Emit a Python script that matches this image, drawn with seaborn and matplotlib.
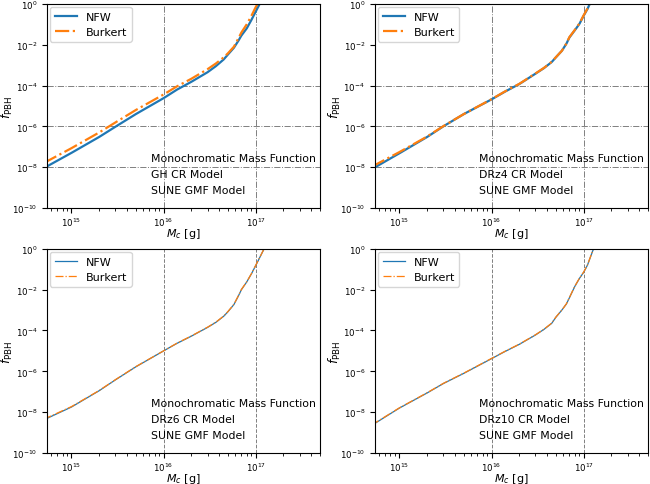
import matplotlib
matplotlib.use("Agg")
import matplotlib.pyplot as plt
import numpy as np
import seaborn as sns

# PBH mass grid [g]
mass = [5e14, 1e15, 2e15, 3e15, 5e15, 1e16, 1.4e16, 2e16, 3e16, 3.7e16, 4.5e16,
        5e16, 5.8e16, 6.5e16, 7e16, 8e16, 9e16, 1e17, 1.1e17, 1.25e17, 1.4e17]

# log10(f_PBH)
gh_nfw = [-8.05, -7.3, -6.52, -6.02, -5.4, -4.62, -4.2, -3.82, -3.35, -3.05, -2.72,
          -2.48, -2.15, -1.8, -1.55, -1.2, -0.78, -0.38, -0.02, 0.5, 0.9]
gh_burkert = [-7.8, -7.07, -6.3, -5.81, -5.2, -4.44, -4.04, -3.67, -3.2, -2.92, -2.62,
              -2.42, -2.1, -1.68, -1.4, -1.0, -0.58, -0.16, 0.15, 0.6, 1.0]

drz4_nfw = [-8.1, -7.32, -6.52, -6.0, -5.4, -4.68, -4.3, -3.93, -3.42, -3.15, -2.85,
            -2.62, -2.3, -1.95, -1.65, -1.3, -0.98, -0.58, -0.25, 0.3, 0.7]
drz4_burkert = [-7.98, -7.26, -6.5, -5.99, -5.4, -4.67, -4.29, -3.92, -3.41, -3.14, -2.84,
                -2.61, -2.3, -1.94, -1.63, -1.28, -0.96, -0.56, -0.23, 0.32, 0.72]

drz6_nfw = [-8.38, -7.75, -6.95, -6.42, -5.78, -5.0, -4.63, -4.28, -3.85, -3.6, -3.3,
            -3.08, -2.73, -2.3, -2.0, -1.62, -1.22, -0.82, -0.45, 0.05, 0.5]
drz6_burkert = [-8.35, -7.73, -6.94, -6.41, -5.77, -5.0, -4.62, -4.27, -3.84, -3.59, -3.29,
                -3.07, -2.72, -2.29, -1.99, -1.61, -1.21, -0.81, -0.44, 0.06, 0.5]

drz10_nfw = [-8.65, -7.8, -7.06, -6.6, -6.1, -5.38, -5.03, -4.68, -4.22, -3.95, -3.65,
             -3.35, -3.0, -2.7, -2.4, -1.85, -1.45, -1.15, -0.8, -0.12, 0.4]
drz10_burkert = [-8.63, -7.79, -7.05, -6.59, -6.09, -5.37, -5.02, -4.67, -4.21, -3.94, -3.64,
                 -3.34, -3.0, -2.69, -2.39, -1.84, -1.44, -1.14, -0.79, -0.11, 0.4]

cr_models = ["GH", "DRz4", "DRz6", "DRz10"]
nfw_data = [gh_nfw, drz4_nfw, drz6_nfw, drz10_nfw]
burkert_data = [gh_burkert, drz4_burkert, drz6_burkert, drz10_burkert]

fig, axes = plt.subplots(2, 2, figsize=(6.5, 4.85), dpi=100)
fig.subplots_adjust(left=0.072, right=0.997, bottom=0.064, top=0.99, wspace=0.2, hspace=0.2)

for i, ax in enumerate(axes.flat):
    top = i < 2
    lw = 1.6 if top else 0.9
    f_nfw = 10.0 ** np.array(nfw_data[i])
    f_bur = 10.0 ** np.array(burkert_data[i])
    sns.lineplot(x=mass, y=f_nfw, ax=ax, color="C0", lw=lw, label="NFW")
    sns.lineplot(x=mass, y=f_bur, ax=ax, color="C1", lw=lw, linestyle="-.", label="Burkert")

    ax.set_xscale("log")
    ax.set_yscale("log")
    ax.set_xlim(5.4e14, 5e17)
    ax.set_ylim(1e-10, 1)
    ax.set_yticks([1e0, 1e-2, 1e-4, 1e-6, 1e-8, 1e-10])
    ax.yaxis.set_minor_locator(matplotlib.ticker.NullLocator())

    if top:
        for xv in [1e16, 1e17]:
            ax.axvline(xv, color="grey", ls="-.", lw=0.7, zorder=0)
        for yv in [1e-4, 1e-6, 1e-8]:
            ax.axhline(yv, color="grey", ls="-.", lw=0.7, zorder=0)
    else:
        for xv in [1e16, 1e17]:
            ax.axvline(xv, color="grey", ls="--", lw=0.7, zorder=0)

    ax.tick_params(labelsize=6.2)
    ax.tick_params(axis="x", pad=2)
    ax.set_xlabel(r"$M_c$ [g]", fontsize=8)
    ax.set_ylabel(r"$f_{\rm PBH}$", fontsize=9)
    ax.xaxis.set_label_coords(0.5, -0.09)
    ax.yaxis.set_label_coords(-0.118, 0.5)

    ax.text(0.382, 0.244, "Monochromatic Mass Function", transform=ax.transAxes, fontsize=7.8, va="center")
    ax.text(0.382, 0.166, cr_models[i] + " CR Model", transform=ax.transAxes, fontsize=7.8, va="center")
    ax.text(0.382, 0.088, "SUNE GMF Model", transform=ax.transAxes, fontsize=7.8, va="center")

    ax.legend(loc="upper left", fontsize=8, borderaxespad=0.3)

fig.savefig("out.png", dpi=100)
